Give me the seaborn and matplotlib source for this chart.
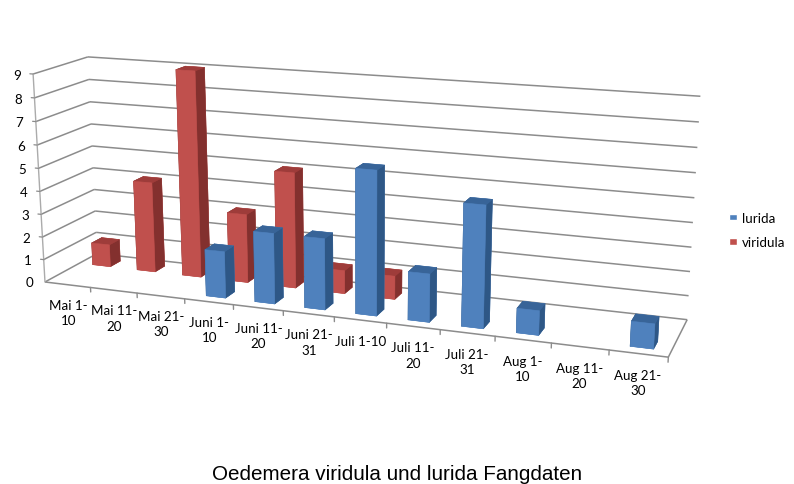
import numpy as np
import matplotlib
matplotlib.use("Agg")
import matplotlib.pyplot as plt
from matplotlib.patches import Patch
from mpl_toolkits.mplot3d.art3d import Line3DCollection
import seaborn as sns

# Catches per ten-day period for both species
periods = ["Mai 1-\n10", "Mai 11-\n20", "Mai 21-\n30", "Juni 1-\n10", "Juni 11-\n20", "Juni 21-\n31",
           "Juli 1-10", "Juli 11-\n20", "Juli 21-\n31", "Aug 1-\n10", "Aug 11-\n20", "Aug 21-\n30"]
lurida = [0, 0, 0, 2, 3, 3, 6, 2, 5, 1, 0, 1]
viridula = [1, 4, 9, 3, 5, 1, 1, 0, 0, 0, 0, 0]
value_ticks = list(range(10))
title = "Oedemera viridula und lurida Fangdaten"

sns.set_theme(style="white")
plt.rcParams["font.family"] = ["Lato", "DejaVu Sans"]
blue, red = sns.color_palette(["#4F81BD", "#C0504D"])
blue_side, blue_top = "#2E5786", "#386498"
red_side, red_top = "#83302E", "#9E3C3A"

W, H = 794, 485
LABEL_SIZE = 9.6
LINE = "#8C8C8C"

# Camera: a projective map from (category, depth, value) to canvas pixels,
# solved from where the chart box's reference points fall on the canvas.
box_points = np.array([
    (0, 0, 0), (12, 0, 0), (0, 1, 0), (12, 1, 0),
    (0, 0, 9), (0, 1, 9), (12, 1, 9),
    (3, 0, 0), (6, 0, 0), (10, 0, 0), (11, 0, 0),
    (0, 1, 5), (12, 1, 5),
], dtype=float)
canvas_points = np.array([
    (45, 282), (668, 357), (97, 255), (687, 320),
    (33, 75), (88, 58), (700, 97),
    (185, 300), (334, 318), (552, 345), (609, 352),
    (92, 147), (695, 199),
], dtype=float)


def solve_camera(world, pixels):
    rows = []
    for (x, y, z), (u, v) in zip(world, pixels / 100.0):
        rows.append([x, y, z, 1, 0, 0, 0, 0, -u * x, -u * y, -u * z, -u])
        rows.append([0, 0, 0, 0, x, y, z, 1, -v * x, -v * y, -v * z, -v])
    P = np.linalg.svd(np.array(rows))[2][-1].reshape(3, 4)
    P /= P[2, 3]
    P[:2] *= 100.0
    # third row orders faces by distance: nearer to the front, right and top draws last
    return np.vstack([P[0], P[1], [-0.005, 1, -0.005, 0], P[2]])


camera = solve_camera(box_points, canvas_points)


def figure_xy(x, y, z):
    u, v, _, w = camera @ np.array([x, y, z, 1.0])
    return u / w / W, 1 - v / w / H


fig = plt.figure(figsize=(W / 100, H / 100), dpi=100, facecolor="white")
ax = fig.add_axes([0, 0, 1, 1], projection="3d", computed_zorder=False)
ax.apply_aspect = lambda position=None: None
ax.set_axis_off()


def canvas_projection():
    T = ax.transData.inverted().get_matrix()
    to_data = np.array([[T[0, 0], T[0, 1], 0, T[0, 2]],
                        [T[1, 0], T[1, 1], 0, T[1, 2]],
                        [0, 0, 1, 0],
                        [0, 0, 0, 1]])
    flip = np.array([[1, 0, 0, 0], [0, -1, 0, H], [0, 0, 1, 0], [0, 0, 0, 1]], dtype=float)
    return to_data @ flip @ camera


ax.get_proj = canvas_projection

n = len(periods)

# Gridlines across the side wall and the back wall, floor outline
grid_segments = []
for v in value_ticks:
    grid_segments.append([(0, 0, v), (0, 1, v)])
    grid_segments.append([(0, 1, v), (n, 1, v)])
grid_segments.append([(0, 0, 0), (n, 0, 0)])
grid_segments.append([(n, 0, 0), (n, 1, 0)])
ax.add_collection3d(Line3DCollection(grid_segments, colors=LINE, linewidths=1.1, zorder=1))

# Value axis with its labels, and category ticks with their labels
ax.plot([0, 0], [0, 0], [0, 9], color="#ABABAB", lw=1.0, zorder=1)
for v in value_ticks:
    ax.plot([-0.07, 0], [0, 0], [v, v], color=LINE, lw=0.9, zorder=1)
    fx, fy = figure_xy(-0.27, 0, v - 0.08)
    fig.text(fx, fy, str(v), ha="right", va="center", fontsize=LABEL_SIZE, color="black")
for i in range(n + 1):
    ax.plot([i, i], [0, 0], [0, -0.2], color=LINE, lw=1.0, zorder=1)
for i, label in enumerate(periods):
    fx, fy = figure_xy(i + 0.5, 0, -0.62)
    fig.text(fx, fy, label, ha="center", va="top", fontsize=LABEL_SIZE, color="black", linespacing=1.33)

# Columns: viridula in the rear row, lurida in front, drawn back to front
BAR_W, BAR_D = 0.4, 0.2
rows = [(viridula, 0.75, red, red_side, red_top), (lurida, 0.25, blue, blue_side, blue_top)]
order = 2
for values, row_y, front, side, top in rows:
    for i, v in enumerate(values):
        if v <= 0:
            continue
        face_colors = [front, top, front, front, side, side]
        ax.bar3d(i + 0.5 - BAR_W / 2, row_y - BAR_D / 2, 0, BAR_W, BAR_D, v,
                 color=face_colors, shade=False, zorder=order, linewidth=0.4, edgecolor=face_colors)
        order += 1

handles = [Patch(facecolor=blue, label="lurida"), Patch(facecolor=red, label="viridula")]
fig.legend(handles=handles, loc="center left", bbox_to_anchor=(717 / W, 1 - 231 / H), frameon=False,
           fontsize=LABEL_SIZE, handlelength=0.6, handleheight=0.4, handletextpad=0.4,
           labelspacing=0.95, labelcolor="black")

fig.text(397.5 / W, 1 - 475 / H, title, ha="center", va="center", fontsize=14.85,
         family="Liberation Sans", color="black")

fig.savefig("out.png", dpi=100, facecolor="white")
